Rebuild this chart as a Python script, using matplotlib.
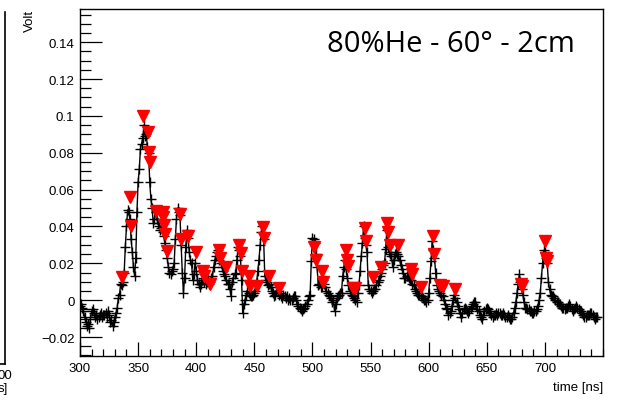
import numpy as np
import matplotlib
matplotlib.use("Agg")
import matplotlib.pyplot as plt
from matplotlib.ticker import MultipleLocator, FuncFormatter

# Sampled waveform: one sample per ns from 300 ns to 745 ns
t_start, t_step = 300, 1
volts = [
    -0.003, -0.002, -0.004, -0.006, -0.009, -0.012, -0.014, -0.013, -0.015, -0.010,
    -0.006, -0.005, -0.007, -0.009, -0.008, -0.010, -0.009, -0.008, -0.007, -0.009,
    -0.008, -0.008, -0.007, -0.009, -0.006, -0.008, -0.012, -0.011, -0.014, -0.012,
    -0.009, -0.007, -0.004, 0.001, 0.003, 0.009, 0.008, 0.010, 0.015, 0.029,
    0.040, 0.049, 0.048, 0.044, 0.033, 0.026, 0.018, 0.013, 0.023, 0.048,
    0.064, 0.071, 0.082, 0.085, 0.088, 0.095, 0.089, 0.090, 0.083, 0.080,
    0.064, 0.055, 0.050, 0.042, 0.044, 0.048, 0.044, 0.042, 0.040, 0.038,
    0.039, 0.037, 0.035, 0.031, 0.027, 0.023, 0.018, 0.015, 0.014, 0.016,
    0.017, 0.020, 0.033, 0.044, 0.050, 0.048, 0.046, 0.030, 0.015, 0.004,
    0.012, 0.029, 0.038, 0.034, 0.026, 0.022, 0.020, 0.011, 0.014, 0.020,
    0.016, 0.011, 0.009, 0.007, 0.009, 0.011, 0.012, 0.010, 0.009, 0.010,
    0.011, 0.009, 0.010, 0.012, 0.013, 0.018, 0.022, 0.024, 0.026, 0.027,
    0.022, 0.020, 0.018, 0.016, 0.014, 0.013, 0.011, 0.009, 0.009, 0.006,
    0.002, 0.010, 0.012, 0.014, 0.015, 0.022, 0.029, 0.027, 0.024, 0.011,
    -0.007, -0.002, 0.000, 0.003, 0.005, 0.004, 0.003, 0.002, 0.002, 0.003,
    0.004, 0.005, 0.010, 0.016, 0.022, 0.030, 0.037, 0.040, 0.033, 0.013,
    0.011, 0.010, 0.008, 0.009, 0.007, 0.005, 0.004, 0.002, 0.003, 0.005,
    0.005, 0.003, 0.004, 0.002, 0.001, 0.003, 0.002, 0.001, 0.002, 0.000,
    0.001, 0.000, 0.000, 0.001, 0.002, 0.002, 0.000, -0.002, -0.003, -0.004,
    -0.005, -0.006, -0.005, -0.004, -0.003, -0.002, 0.000, 0.002, 0.003, 0.021,
    0.034, 0.033, 0.031, 0.025, 0.018, 0.008, 0.009, 0.007, 0.007, 0.011,
    0.009, 0.007, 0.005, 0.004, 0.003, 0.002, 0.001, -0.001, 0.000, -0.006,
    -0.002, 0.001, 0.002, 0.003, 0.004, 0.004, 0.013, 0.018, 0.022, 0.017,
    0.012, 0.008, 0.005, 0.004, 0.003, 0.002, 0.001, 0.000, -0.001, 0.004,
    0.008, 0.016, 0.024, 0.031, 0.040, 0.034, 0.030, 0.026, 0.008, 0.006,
    0.005, 0.004, 0.005, 0.006, 0.006, 0.008, 0.010, 0.011, 0.013, 0.015,
    0.017, 0.019, 0.020, 0.028, 0.038, 0.029, 0.026, 0.025, 0.024, 0.018,
    0.022, 0.025, 0.026, 0.025, 0.024, 0.022, 0.019, 0.017, 0.015, 0.012,
    0.012, 0.013, 0.013, 0.012, 0.011, 0.011, 0.009, 0.008, 0.006, 0.005,
    0.004, 0.003, 0.003, 0.002, 0.002, 0.001, 0.000, 0.000, -0.001, 0.000,
    0.004, 0.012, 0.021, 0.032, 0.027, 0.023, 0.015, 0.008, 0.006, 0.005,
    0.004, 0.003, 0.002, 0.000, -0.002, -0.004, -0.005, -0.008, -0.007, -0.006,
    -0.003, 0.000, 0.003, 0.001, -0.001, -0.003, -0.005, -0.007, -0.009, -0.007,
    -0.005, -0.004, -0.005, -0.006, -0.007, -0.006, -0.004, -0.003, -0.002, -0.001,
    -0.001, -0.003, -0.005, -0.006, -0.008, -0.009, -0.010, -0.008, -0.006, -0.005,
    -0.004, -0.005, -0.006, -0.007, -0.008, -0.009, -0.008, -0.008, -0.007, -0.008,
    -0.007, -0.007, -0.008, -0.008, -0.007, -0.008, -0.009, -0.009, -0.008, -0.009,
    -0.010, -0.010, -0.009, -0.007, -0.004, -0.001, 0.004, 0.009, 0.014, 0.010,
    0.006, 0.003, -0.001, -0.004, -0.004, -0.005, -0.005, -0.006, -0.006, -0.007,
    -0.007, -0.006, -0.006, -0.005, -0.003, 0.000, 0.004, 0.012, 0.020, 0.027,
    0.026, 0.023, 0.020, 0.010, 0.006, 0.003, 0.002, 0.002, 0.001, 0.000,
    -0.001, -0.001, -0.002, -0.002, -0.003, -0.004, -0.004, -0.005, -0.004, -0.004,
    -0.003, -0.002, -0.003, -0.005, -0.006, -0.005, -0.004, -0.003, -0.004, -0.005,
    -0.006, -0.006, -0.007, -0.008, -0.009, -0.009, -0.008, -0.008, -0.008, -0.007,
    -0.007, -0.008, -0.009, -0.010, -0.009, -0.009,
]
times = t_start + t_step * np.arange(len(volts))

# Peaks flagged by the peak search
peak_times = [
    336.1, 343.0, 343.9, 354.2, 358.5, 359.4, 360.2, 365.4, 371.4, 371.6,
    372.3, 373.1, 374.9, 386.1, 386.9, 392.9, 399.8, 405.9, 406.7, 411.9,
    419.6, 420.5, 425.6, 436.8, 438.6, 439.4, 445.4, 446.3, 452.3, 457.5,
    458.3, 462.5, 471.3, 501.4, 503.1, 508.3, 509.1, 528.9, 529.8, 530.6,
    534.9, 536.7, 545.3, 546.1, 552.2, 559.0, 564.2, 565.1, 566.8, 573.7,
    584.9, 585.7, 593.5, 603.8, 604.2, 609.8, 612.4, 622.7, 679.5, 680.4,
    700.2, 701.0, 701.9,
]
peak_volts = [
    0.0124, 0.0562, 0.0400, 0.1000, 0.0914, 0.0805, 0.0751, 0.0486, 0.0476, 0.0449,
    0.0410, 0.0357, 0.0265, 0.0465, 0.0330, 0.0350, 0.0260, 0.0157, 0.0130, 0.0086,
    0.0270, 0.0230, 0.0178, 0.0297, 0.0254, 0.0157, 0.0130, 0.0076, 0.0076, 0.0395,
    0.0335, 0.0130, 0.0065, 0.0290, 0.0220, 0.0160, 0.0097, 0.0270, 0.0216, 0.0184,
    0.0065, 0.0065, 0.0390, 0.0320, 0.0124, 0.0180, 0.0420, 0.0370, 0.0300, 0.0297,
    0.0168, 0.0140, 0.0070, 0.0346, 0.0250, 0.0080, 0.0076, 0.0060, 0.0090, 0.0076,
    0.0320, 0.0230, 0.0210,
]

x_ticks = [300, 350, 400, 450, 500, 550, 600, 650, 700]
y_ticks = [-0.02, 0, 0.02, 0.04, 0.06, 0.08, 0.1, 0.12, 0.14]

plt.rcParams["font.family"] = ["Liberation Sans", "DejaVu Sans"]

W, H = 623, 402
fig = plt.figure(figsize=(W / 100, H / 100), dpi=100)
fig.patch.set_facecolor("white")

# Edge of the neighbouring pad on the left
fig.add_artist(plt.Line2D([5 / W, 5 / W], [1 - 13 / H, 1 - 365 / H],
                          color="black", lw=1.2, transform=fig.transFigure))
fig.add_artist(plt.Line2D([0, 5 / W], [1 - 365 / H, 1 - 365 / H],
                          color="black", lw=1.2, transform=fig.transFigure))
fig.text(-2 / W, 1 - 376 / H, "00", fontsize=9.5, ha="left", va="center")
fig.text(-2 / W, 1 - 389 / H, "s]", fontsize=9.5, ha="left", va="center")

left, right, top, bottom = 80, 603, 10, 357
ax = fig.add_axes([left / W, 1 - bottom / H, (right - left) / W, (bottom - top) / H])

ax.plot(times, volts, color="black", lw=1.0, marker="+", ms=7, mew=1.0)
ax.plot(peak_times, peak_volts, linestyle="none", marker="v", ms=8,
        color="red", mec="red")

ax.set_xlim(300, 750)
ax.set_ylim(-0.0303, 0.158)

ax.set_xticks(x_ticks)
ax.set_yticks(y_ticks)
ax.xaxis.set_minor_locator(MultipleLocator(10))
ax.yaxis.set_minor_locator(MultipleLocator(0.005))
ax.yaxis.set_major_formatter(FuncFormatter(lambda v, p: f"{v:g}".replace("-", "\u2212")))

ax.tick_params(axis="both", which="both", direction="in", top=False, right=False,
               labelsize=9.5, width=0.9, colors="black")
ax.tick_params(axis="x", which="major", length=10, pad=4)
ax.tick_params(axis="x", which="minor", length=5)
ax.tick_params(axis="y", which="major", length=16, pad=4)
ax.tick_params(axis="y", which="minor", length=8)
for s in ax.spines.values():
    s.set_linewidth(1.0)

fig.text(30 / W, 1 - 10 / H, "Volt", rotation=90, fontsize=9.5, ha="center", va="top")
fig.text(right / W, 1 - 388 / H, "time [ns]", fontsize=9.5, ha="right", va="center")
fig.text(327 / W, 1 - 44 / H, "80%He - 60\u00b0 - 2cm", fontsize=21,
         family=["Open Sans", "DejaVu Sans"], ha="left", va="center")

fig.savefig("out.png", dpi=100)
